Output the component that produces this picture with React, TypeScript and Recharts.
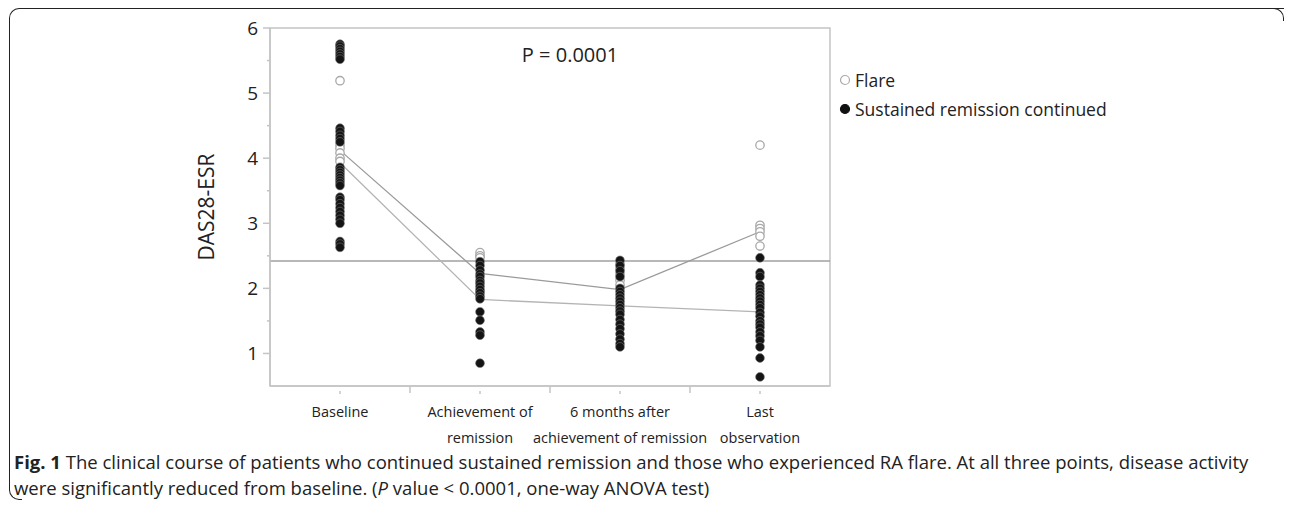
import {
  ComposedChart,
  Legend,
  ReferenceArea,
  ReferenceLine,
  Scatter,
  XAxis,
  YAxis,
} from "recharts";

const categories = [
  ["Baseline"],
  ["Achievement of", "remission"],
  ["6 months after", "achievement of remission"],
  ["Last", "observation"],
];

// individual patients, one list per time point
const flareValues = [
  [5.19, 4.2, 4.15, 4.08, 4.0, 3.95],
  [2.55, 2.5, 2.47, 1.95],
  [2.38, 2.3, 2.22, 2.12, 2.05],
  [4.2, 2.97, 2.92, 2.87, 2.8, 2.65],
];

const remissionValues = [
  [
    5.75, 5.72, 5.68, 5.64, 5.6, 5.56, 5.52, 4.46, 4.41, 4.35, 4.3, 4.25, 3.86,
    3.82, 3.78, 3.74, 3.7, 3.66, 3.62, 3.58, 3.4, 3.36, 3.3, 3.24, 3.18, 3.12,
    3.06, 3.0, 2.72, 2.68, 2.63,
  ],
  [
    2.41, 2.35, 2.28, 2.22, 2.18, 2.12, 2.08, 2.03, 1.98, 1.93, 1.88, 1.84,
    1.64, 1.51, 1.33, 1.28, 0.85,
  ],
  [
    2.43, 2.35, 2.27, 2.18, 2.0, 1.95, 1.9, 1.85, 1.8, 1.75, 1.7, 1.65, 1.6,
    1.52, 1.45, 1.38, 1.3, 1.22, 1.15, 1.1,
  ],
  [
    2.47, 2.24, 2.18, 2.05, 2.0, 1.95, 1.9, 1.85, 1.8, 1.75, 1.7, 1.63, 1.57,
    1.5, 1.45, 1.4, 1.33, 1.27, 1.2, 1.1, 0.93, 0.64,
  ],
];

const flareMean = [4.12, 2.23, 1.98, 2.87];
const remissionMean = [3.93, 1.83, 1.73, 1.64];

const remissionCutoff = 2.42;

const legendItems = [
  { name: "Flare", open: true },
  { name: "Sustained remission continued", open: false },
];

const toPoints = (groups: number[][]) =>
  groups.flatMap((vals, i) => vals.map((v) => ({ x: i, y: v })));
const meanPoints = (vals: number[]) => vals.map((v, i) => ({ x: i, y: v }));

const font = "'Open Sans', sans-serif";

const XTick = (props: any) => {
  const { x, y, payload } = props;
  const v = payload.value;
  if (!Number.isInteger(v)) {
    return <line x1={x} x2={x} y1={y} y2={y + 7} stroke="#c4c4c4" strokeWidth={1.5} />;
  }
  return (
    <g>
      <line x1={x} x2={x} y1={y + 5} y2={y + 8} stroke="#c4c4c4" strokeWidth={1.5} />
      {categories[v].map((t, i) => (
        <text
          key={i}
          x={x}
          y={y + 25 + i * 26}
          textAnchor="middle"
          dominantBaseline="central"
          fontSize={14.5}
          fontFamily={font}
          fill="#222"
        >
          {t}
        </text>
      ))}
    </g>
  );
};

const YTick = (props: any) => {
  const { x, y, payload } = props;
  const v = payload.value;
  const major = Number.isInteger(v);
  return (
    <g>
      <line x1={x - (major ? 7 : 3)} x2={x} y1={y} y2={y} stroke="#c4c4c4" strokeWidth={1.5} />
      {major && (
        <text
          x={x - 12}
          y={y}
          textAnchor="end"
          dominantBaseline="central"
          fontSize={19}
          fontFamily={font}
          fill="#222"
        >
          {v}
        </text>
      )}
    </g>
  );
};

const LegendBox = () => (
  <div style={{ fontFamily: font, fontSize: 17.5, color: "#222" }}>
    {legendItems.map((it) => (
      <div key={it.name} style={{ display: "flex", alignItems: "center", height: 29 }}>
        <svg width={12} height={12} style={{ marginRight: 4 }}>
          <circle
            cx={6}
            cy={6}
            r={4.5}
            fill={it.open ? "#fff" : "#111"}
            stroke={it.open ? "#aaa" : "#111"}
            strokeWidth={1.2}
          />
        </svg>
        {it.name}
      </div>
    ))}
  </div>
);

const OpenDot = (props: any) => (
  <circle cx={props.cx} cy={props.cy} r={4.2} fill="#fff" stroke="#a8a8a8" strokeWidth={1.3} />
);
const FilledDot = (props: any) => (
  <circle cx={props.cx} cy={props.cy} r={4.4} fill="#141414" stroke="#777" strokeWidth={0.6} />
);
const NoDot = () => <g />;

export default function App() {
  return (
    <div style={{ position: "relative", width: 1276, height: 492 }}>
      {/* journal frame */}
      <div
        style={{
          position: "absolute",
          left: 1,
          top: 0,
          right: 0,
          bottom: 12,
          borderTop: "1.5px solid #222",
          borderLeft: "1.5px solid #222",
          borderTopLeftRadius: 10,
        }}
      />
      <div
        style={{
          position: "absolute",
          right: 0,
          top: 0,
          width: 12,
          height: 12,
          borderTop: "1.5px solid #222",
          borderRight: "1.5px solid #222",
          borderTopRightRadius: 10,
        }}
      />
      <div
        style={{
          position: "absolute",
          left: 1,
          bottom: 0,
          width: 12,
          height: 12,
          borderBottom: "1.5px solid #222",
          borderLeft: "1.5px solid #222",
          borderBottomLeftRadius: 10,
        }}
      />

      <div style={{ position: "absolute", left: 0, top: 0 }}>
        <ComposedChart
          width={1276}
          height={440}
          margin={{ top: 20, right: 454, bottom: 2, left: 162 }}
        >
          <XAxis
            dataKey="x"
            type="number"
            domain={[-0.5, 3.5]}
            ticks={[0, 0.5, 1, 1.5, 2, 2.5, 3]}
            interval={0}
            tick={<XTick />}
            tickLine={false}
            tickSize={0}
            tickMargin={0}
            height={60}
            axisLine={{ stroke: "#c4c4c4", strokeWidth: 1.5 }}
          />
          <YAxis
            dataKey="y"
            type="number"
            domain={[0.5, 6]}
            ticks={[1, 1.5, 2, 2.5, 3, 3.5, 4, 4.5, 5, 5.5, 6]}
            interval={0}
            tick={<YTick />}
            tickLine={false}
            tickSize={0}
            tickMargin={0}
            width={100}
            axisLine={{ stroke: "#c4c4c4", strokeWidth: 1.5 }}
            label={{
              value: "DAS28-ESR",
              angle: -90,
              position: "center",
              dx: -13,
              fontSize: 21,
              fontFamily: font,
              fill: "#222",
            }}
          />
          <ReferenceArea
            x1={-0.5}
            x2={3.5}
            y1={0.5}
            y2={6}
            fill="none"
            stroke="#c4c4c4"
            strokeWidth={1.5}
          />
          <ReferenceLine y={remissionCutoff} stroke="#a0a0a0" strokeWidth={1.5} />
          <Scatter
            name="Flare mean"
            data={meanPoints(flareMean)}
            line={{ stroke: "#9a9a9a", strokeWidth: 1.3 }}
            shape={<NoDot />}
            legendType="none"
            isAnimationActive={false}
          />
          <Scatter
            name="Remission mean"
            data={meanPoints(remissionMean)}
            line={{ stroke: "#b4b4b4", strokeWidth: 1.3 }}
            shape={<NoDot />}
            legendType="none"
            isAnimationActive={false}
          />
          <Scatter
            name="Flare"
            data={toPoints(flareValues)}
            shape={<OpenDot />}
            isAnimationActive={false}
          />
          <Scatter
            name="Sustained remission continued"
            data={toPoints(remissionValues)}
            shape={<FilledDot />}
            isAnimationActive={false}
          />
          <Legend
            layout="vertical"
            align="center"
            verticalAlign="middle"
            content={<LegendBox />}
            wrapperStyle={{ left: 831, top: 57, width: 340 }}
          />
        </ComposedChart>
      </div>

      <div
        style={{
          position: "absolute",
          left: 562,
          top: 46,
          transform: "translate(-50%, -50%)",
          fontFamily: font,
          fontSize: 20,
          color: "#222",
          whiteSpace: "nowrap",
        }}
      >
        P = 0.0001
      </div>

      <div
        style={{
          position: "absolute",
          left: 6,
          top: 441,
          fontFamily: font,
          fontSize: 18.5,
          lineHeight: "26px",
          color: "#222",
          whiteSpace: "nowrap",
        }}
      >
        <b>Fig. 1</b> The clinical course of patients who continued sustained remission
        and those who experienced RA flare. At all three points, disease activity
        <br />
        were significantly reduced from baseline. (<i>P</i> value &lt; 0.0001, one-way ANOVA
        test)
      </div>
    </div>
  );
}
